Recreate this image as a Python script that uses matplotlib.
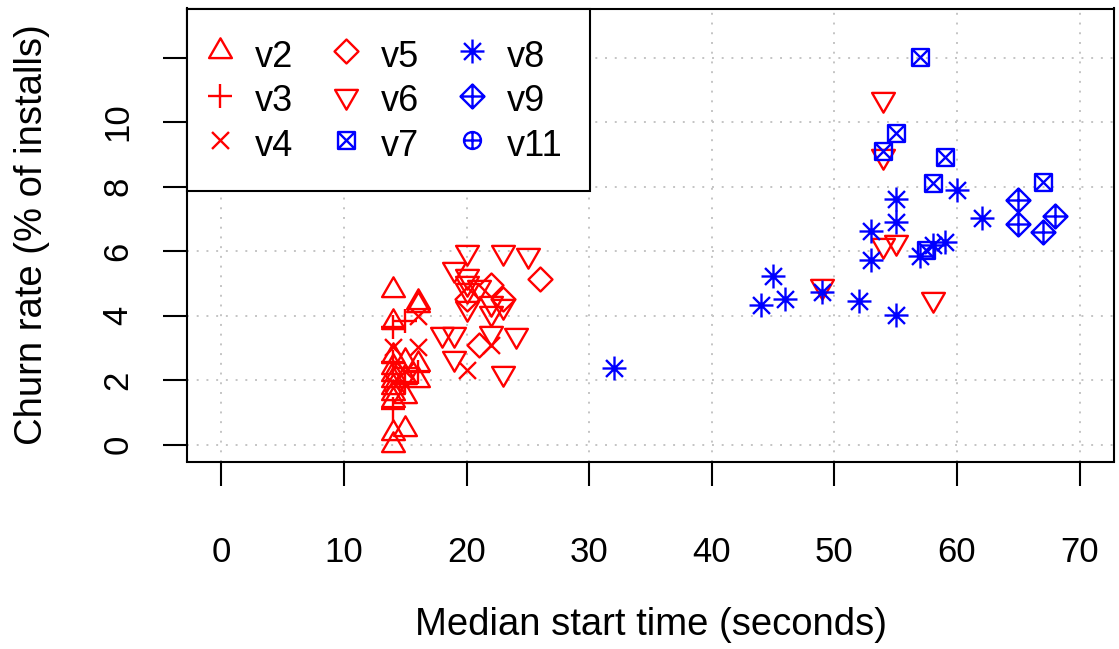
import matplotlib
matplotlib.use("Agg")
import matplotlib.pyplot as plt
from matplotlib.path import Path

plt.rcParams['font.family'] = ['Liberation Sans', 'DejaVu Sans']

# median start time (s) and churn rate (%) per release
v2_x = [14, 14, 14, 14, 14, 14, 14, 14, 14, 14, 14, 15, 15, 15, 15, 16, 16, 16, 16]
v2_y = [4.79, 3.81, 2.75, 2.4, 2.2, 2.0, 1.8, 1.6, 1.4, 0.35, 0.0,
        2.6, 2.1, 1.5, 0.5, 4.43, 4.33, 2.5, 2.0]
v3_x = [14, 15, 14, 15, 14, 16]
v3_y = [3.66, 3.85, 1.1, 1.95, 2.55, 2.25]
v4_x = [14, 16, 16, 15, 14, 20, 22]
v4_y = [3.04, 3.04, 4.0, 2.3, 1.9, 2.32, 3.1]
v5_x = [26, 22, 23, 20, 21]
v5_y = [5.13, 4.94, 4.53, 4.53, 3.09]
v6_x = [18, 19, 19, 19, 20, 20, 20, 20, 20, 21, 22, 22, 22, 23, 23, 23, 24, 25,
        54, 54, 54, 55, 49, 58]
v6_y = [3.43, 3.42, 2.7, 5.46, 5.97, 5.23, 5.0, 4.8, 4.24, 4.9, 4.07, 3.46, 4.4,
        5.97, 4.3, 2.22, 3.4, 5.87, 10.7, 8.96, 6.2, 6.29, 4.92, 4.53]
v7_x = [57, 55, 54, 59, 58, 67, 57.5]
v7_y = [12.02, 9.65, 9.09, 8.93, 8.11, 8.15, 6.03]
v8_x = [60, 55, 55, 53, 62, 53, 57, 58, 59, 45, 44, 46, 49, 52, 55, 32]
v8_y = [7.91, 7.62, 6.9, 6.61, 7.02, 5.72, 5.84, 6.18, 6.28, 5.23, 4.33, 4.53,
        4.72, 4.46, 4.02, 2.38]
v9_x = [65, 65, 68, 67]
v9_y = [7.6, 6.85, 7.09, 6.59]
v11_x = []
v11_y = []

xticks = [0, 10, 20, 30, 40, 50, 60, 70]
yticks = [0, 2, 4, 6, 8, 10, 12]
ytick_labels = ['0', '2', '4', '6', '8', '10', '']


# R style plotting symbols built as paths (unit = symbol radius)
def shape(pts, closed):
    verts = list(pts)
    codes = [Path.MOVETO] + [Path.LINETO] * (len(pts) - 1)
    if closed:
        verts.append(pts[0])
        codes.append(Path.CLOSEPOLY)
    return Path(verts, codes)


def combine(*paths):
    return Path.make_compound_path(*paths)


s2 = 1.41421356
tc0, tc1, tc2 = 1.5551, 1.3468, 0.7776

tri_up = shape([(0, tc0), (tc1, -tc2), (-tc1, -tc2)], True)
tri_down = shape([(0, -tc0), (tc1, tc2), (-tc1, tc2)], True)
plus = combine(shape([(-s2, 0), (s2, 0)], False), shape([(0, -s2), (0, s2)], False))
small_plus = combine(shape([(-1, 0), (1, 0)], False), shape([(0, -1), (0, 1)], False))
cross = combine(shape([(-1, -1), (1, 1)], False), shape([(-1, 1), (1, -1)], False))
diamond = shape([(0, s2), (s2, 0), (0, -s2), (-s2, 0)], True)
square = shape([(-1, -1), (1, -1), (1, 1), (-1, 1)], True)
sq_cross = combine(square, cross)
asterisk = combine(cross, plus)
diam_plus = combine(diamond, plus)
circ_plus = combine(Path.circle((0, 0), 1.0), small_plus)

R_PT = 6.1


def msize(p):
    return 2 * abs(p.vertices).max() * R_PT


series = [
    ('v2', v2_x, v2_y, tri_up, 'red'),
    ('v3', v3_x, v3_y, plus, 'red'),
    ('v4', v4_x, v4_y, cross, 'red'),
    ('v5', v5_x, v5_y, diamond, 'red'),
    ('v6', v6_x, v6_y, tri_down, 'red'),
    ('v7', v7_x, v7_y, sq_cross, 'blue'),
    ('v8', v8_x, v8_y, asterisk, 'blue'),
    ('v9', v9_x, v9_y, diam_plus, 'blue'),
    ('v11', v11_x, v11_y, circ_plus, 'blue'),
]

fig = plt.figure(figsize=(11.19, 6.49), dpi=100)
ax = fig.add_axes([187 / 1119, 1 - 461.5 / 649, (1114 - 187) / 1119, (461.5 - 8.5) / 649])

for name, xs, ys, mk, col in series:
    ax.plot(xs, ys, linestyle='none', marker=mk, markersize=msize(mk),
            markerfacecolor='none', markeredgecolor=col, markeredgewidth=1.7,
            label=name)

ax.set_xlim(-2.8, 72.8)
ax.set_ylim(-0.52, 13.52)
ax.set_xticks(xticks)
ax.set_yticks(yticks)
ax.set_yticklabels(ytick_labels, rotation=90, va='center')
ax.tick_params(axis='both', direction='out', length=17, width=1.5, labelsize=25)
ax.tick_params(axis='x', pad=37)
ax.tick_params(axis='y', pad=21)
for sp in ax.spines.values():
    sp.set_linewidth(1.5)

ax.set_axisbelow(True)
ax.grid(True, color='#C4C4C4', linestyle=(0, (1, 4)), linewidth=1.4)

fig.text(651 / 1119, 1 - 635 / 649, 'Median start time (seconds)', fontsize=27.5,
         ha='center', va='baseline')
fig.text(42 / 1119, 1 - 234.5 / 649, 'Churn rate (% of installs)', fontsize=27.5,
         ha='center', va='baseline', rotation=90, rotation_mode='anchor')

leg = ax.legend(loc='upper left', ncol=3, fontsize=26, frameon=True,
                fancybox=False, edgecolor='black', framealpha=1,
                borderaxespad=0, handlelength=0.33, handletextpad=0.8,
                handleheight=1.28, columnspacing=1.3, labelspacing=0.13,
                borderpad=0.75)
leg.get_frame().set_linewidth(1.5)

fig.savefig('out.png', dpi=100)
